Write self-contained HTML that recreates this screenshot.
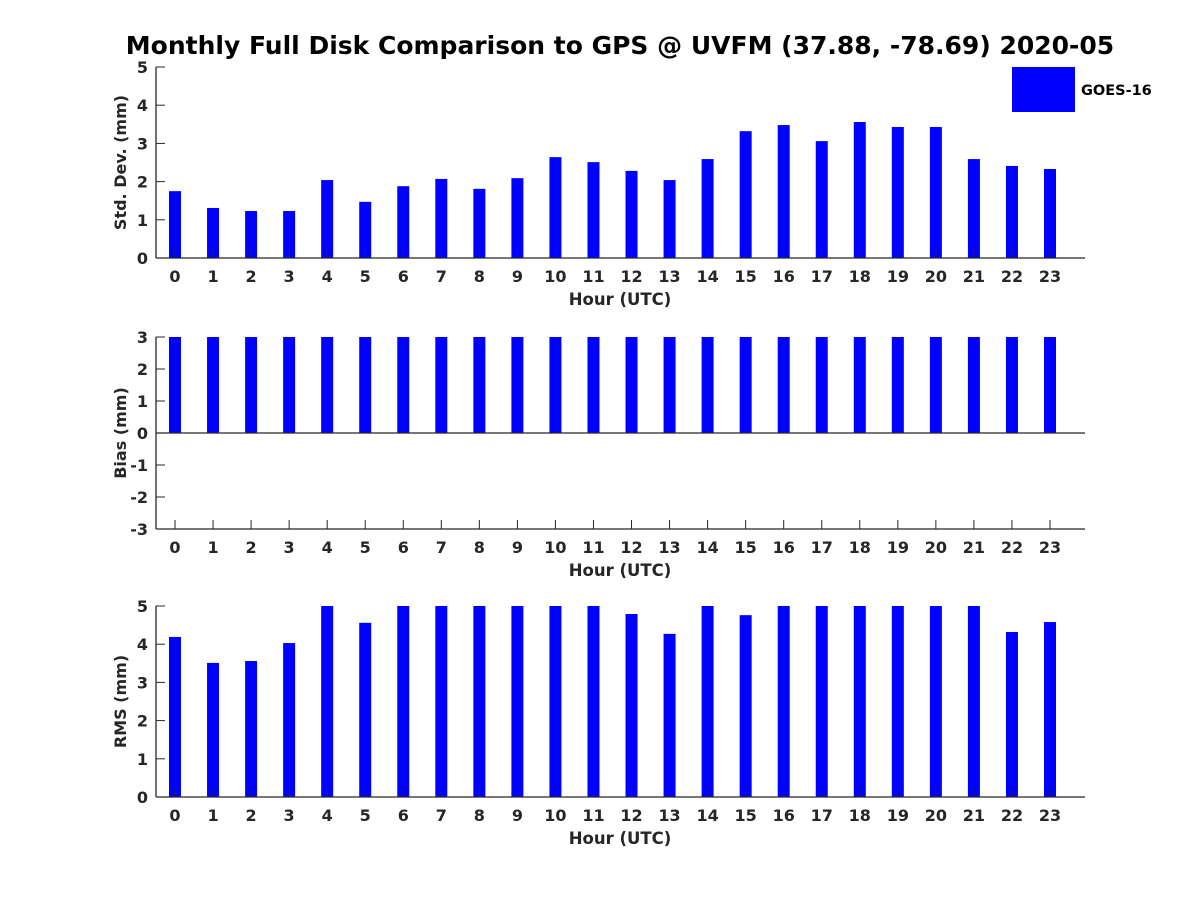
<!DOCTYPE html>
<html><head><meta charset="utf-8"><style>
html,body{margin:0;padding:0;background:#fff;}
svg text{font-family:"DejaVu Sans","Liberation Sans",sans-serif;font-weight:bold;fill:#262626;}
</style></head><body>
<svg id="c" width="1200" height="900" viewBox="0 0 1200 900" xmlns="http://www.w3.org/2000/svg">
<text x="620" y="54" text-anchor="middle" font-size="25" style="fill:#000">Monthly Full Disk Comparison to GPS @ UVFM (37.88, -78.69) 2020-05</text>
<rect x="1012" y="67" width="63" height="45" fill="#0000ff"/>
<text x="1081" y="95" font-size="14.5" style="fill:#000">GOES-16</text>
</svg>
<script>
const hours=[0,1,2,3,4,5,6,7,8,9,10,11,12,13,14,15,16,17,18,19,20,21,22,23];
const stdVals=[1.75,1.31,1.23,1.23,2.04,1.47,1.88,2.07,1.81,2.09,2.64,2.51,2.28,2.04,2.59,3.32,3.48,3.06,3.56,3.43,3.43,2.59,2.41,2.33];
const biasVals=[3.2,3.1,3.3,3.1,3.5,3.2,3.4,3.3,3.6,3.5,3.4,3.3,3.2,3.1,3.6,3.4,3.5,3.3,3.6,3.4,3.5,3.6,3.2,3.3];
const rmsVals=[4.19,3.51,3.56,4.03,5.4,4.56,5.6,5.5,5.8,5.7,5.6,5.5,4.79,4.27,5.5,4.76,5.9,5.8,6.0,5.9,5.8,5.7,4.32,4.58];
const stdTicks=[0,1,2,3,4,5];
const biasTicks=[-3,-2,-1,0,1,2,3];
const rmsTicks=[0,1,2,3,4,5];
const NS='http://www.w3.org/2000/svg';
const svg=document.getElementById('c');
function mk(t,a){const e=document.createElementNS(NS,t);for(const k in a)e.setAttribute(k,a[k]);svg.appendChild(e);return e;}
const X0=156,X1=1085;
function xs(h){return 175+h*(1050-175)/23;}
function panel(name,vals,ticks,ymin,ymax,top,bot,ylabel){
  const ys=v=>bot-(Math.max(ymin,Math.min(ymax,v))-ymin)/(ymax-ymin)*(bot-top);
  const zero=ys(0);
  vals.forEach((v,i)=>{
    const y=ys(v);
    const r=mk('rect',{x:xs(hours[i])-6,y:Math.min(y,zero),width:12,height:Math.abs(zero-y),fill:'#0000ff'});
    
    
  });
  const ax=mk('line',{x1:X0,y1:top,x2:X0,y2:bot,stroke:'#262626','stroke-width':1.3});
  
  
  const bx=mk('line',{x1:X0,y1:bot,x2:X1,y2:bot,stroke:'#262626','stroke-width':1.3});
  
  
  if(ymin<0){
    const zl=mk('line',{x1:X0,y1:zero,x2:X1,y2:zero,stroke:'#262626','stroke-width':1.3});
    
    
  }
  ticks.forEach(t=>{
    const y=ys(t);
    const tl=mk('line',{x1:X0,y1:y,x2:X0+9,y2:y,stroke:'#262626'});
    
    
    const tx=mk('text',{x:X0-8,y:y+6,'text-anchor':'end','font-size':16});
    tx.textContent=t;
    
    
  });
  hours.forEach(h=>{
    const x=xs(h);
    const tl=mk('line',{x1:x,y1:bot,x2:x,y2:bot-9,stroke:'#262626'});
    
    
    const tx=mk('text',{x:x,y:bot+24,'text-anchor':'middle','font-size':16});
    tx.textContent=h;
    
    
  });
  const xl=mk('text',{x:620,y:bot+47,'text-anchor':'middle','font-size':16.5});
  xl.textContent='Hour (UTC)';
  
  
  const cy=(top+bot)/2;
  const yl=mk('text',{x:126,y:cy,'text-anchor':'middle','font-size':16,transform:'rotate(-90 126 '+cy+')'});
  yl.textContent=ylabel;
  
  
}
panel('std',stdVals,stdTicks,0,5,67,258,'Std. Dev. (mm)');
panel('bias',biasVals,biasTicks,-3,3,337,529,'Bias (mm)');
panel('rms',rmsVals,rmsTicks,0,5,606,797,'RMS (mm)');
</script>
</body></html>
